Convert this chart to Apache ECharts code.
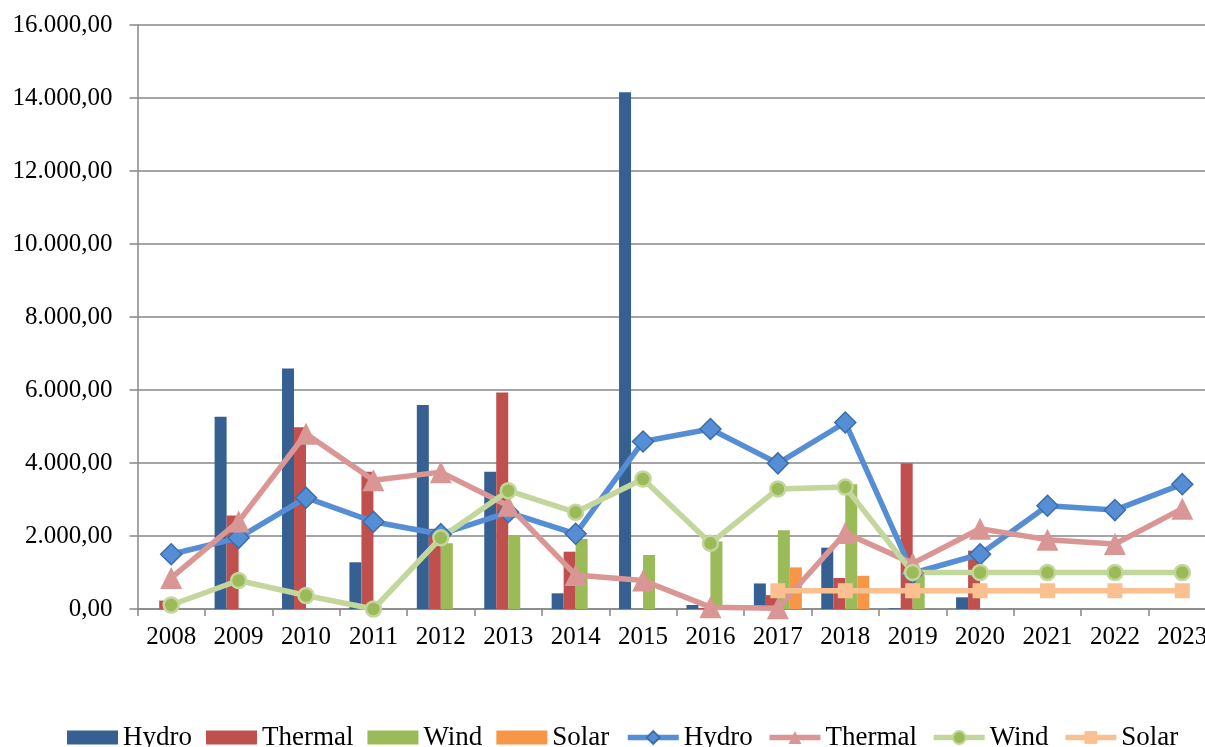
<!DOCTYPE html>
<html>
<head>
<meta charset="utf-8">
<title>Hydro, Thermal, Wind and Solar 2008–2023</title>
<script src="https://cdn.jsdelivr.net/npm/echarts@6/dist/echarts.min.js"></script>
<style>
  html, body { margin: 0; padding: 0; background: #fff; overflow: hidden; }
  /* the plot runs slightly past the right edge of the window */
  #chart { width: 1216px; height: 747px; }
</style>
</head>
<body>
<div id="chart"></div>
<script>
// Years on the category axis
const years = ['2008','2009','2010','2011','2012','2013','2014','2015','2016','2017','2018','2019','2020','2021','2022','2023'];

// Column values
const hydroBars   = [0, 5270, 6590, 1280, 5590, 3760, 430, 14160, 110, 700, 1680, 20, 320, 0, 0, 0];
const thermalBars = [230, 2560, 4980, 3760, 2200, 5930, 1570, 0, 30, 380, 850, 3990, 1600, 0, 0, 0];
const windBars    = [0, 0, 0, 0, 1800, 2030, 1920, 1480, 1850, 2160, 3420, 950, 0, 0, 0, 0];
const solarBars   = [0, 0, 0, 0, 0, 0, 0, 0, 0, 1140, 910, 0, 0, 0, 0, 0];

// Line values
const hydroLine   = [1500, 1950, 3050, 2390, 2050, 2650, 2060, 4590, 4930, 3990, 5110, 980, 1500, 2830, 2710, 3420];
const thermalLine = [850, 2400, 4800, 3530, 3750, 2830, 930, 780, 50, 20, 2080, 1250, 2200, 1900, 1780, 2750];
const windLine    = [110, 780, 370, 0, 1950, 3240, 2650, 3560, 1800, 3290, 3340, 1000, 1000, 1000, 1000, 1000];
const solarLine   = [null, null, null, null, null, null, null, null, null, 500, 500, 500, 500, 500, 500, 500];

// Value-axis tick labels, one per 2.000 step
const yTickLabels = ['0,00', '2.000,00', '4.000,00', '6.000,00', '8.000,00', '10.000,00', '12.000,00', '14.000,00', '16.000,00'];
const yStep = 2000;

const FONT = '"Liberation Serif", "Times New Roman", serif';
const AXIS_GRAY = '#878787';
const LINE_W = 5.5;

const chart = echarts.init(document.getElementById('chart'), null, { renderer: 'canvas' });

function barSeries(name, data, color) {
  return {
    name, type: 'bar', data,
    barWidth: 12,
    barGap: '0%',
    itemStyle: { color },
    z: 2
  };
}

function lineSeries(name, data, color, symbol, size, markerStyle) {
  return {
    name, type: 'line', data,
    symbol, symbolSize: size,
    showAllSymbol: true,
    connectNulls: false,
    lineStyle: { color, width: LINE_W },
    itemStyle: Object.assign({ color }, markerStyle || {}),
    z: 3
  };
}

const legendText = { fontFamily: FONT, fontSize: 27, color: '#000' };

chart.setOption({
  animation: false,
  backgroundColor: '#ffffff',
  textStyle: { fontFamily: FONT },
  grid: { left: 137.5, right: 0, top: 25, bottom: 138, containLabel: false },
  legend: [
    {
      left: 67,
      top: 724,
      padding: 0,
      itemWidth: 51,
      itemHeight: 14,
      itemGap: 14,
      textStyle: legendText,
      data: [
        { name: 'Hydro',   icon: 'rect' },
        { name: 'Thermal', icon: 'rect' },
        { name: 'Wind',    icon: 'rect' },
        { name: 'Solar',   icon: 'rect' }
      ]
    },
    {
      left: 625,
      top: 724,
      padding: 0,
      itemWidth: 51,
      itemHeight: 16,
      itemGap: 14,
      textStyle: legendText,
      data: [
        { name: 'Hydro ',   lineStyle: { width: LINE_W } },
        { name: 'Thermal ', lineStyle: { width: LINE_W } },
        { name: 'Wind ',    lineStyle: { width: LINE_W } },
        { name: 'Solar ',   lineStyle: { width: LINE_W } }
      ],
      formatter: n => n.trim()
    }
  ],
  xAxis: {
    type: 'category',
    data: years,
    boundaryGap: true,
    axisLine: { lineStyle: { color: AXIS_GRAY, width: 1.5 } },
    axisTick: { show: true, length: 7, lineStyle: { color: AXIS_GRAY, width: 1.5 } },
    axisLabel: { color: '#000', fontFamily: FONT, fontSize: 25, margin: 16, interval: 0 },
    splitLine: { show: false }
  },
  yAxis: {
    type: 'value',
    min: 0,
    max: 16000,
    interval: yStep,
    axisLine: { show: true, lineStyle: { color: AXIS_GRAY, width: 1.5 } },
    axisTick: { show: true, length: 8, lineStyle: { color: AXIS_GRAY, width: 1.5 } },
    axisLabel: {
      color: '#000', fontFamily: FONT, fontSize: 25, margin: 25,
      formatter: v => yTickLabels[Math.round(v / yStep)]
    },
    splitLine: { show: true, lineStyle: { color: AXIS_GRAY, width: 1.5 } }
  },
  series: [
    barSeries('Hydro',   hydroBars,   '#376092'),
    barSeries('Thermal', thermalBars, '#C0504D'),
    barSeries('Wind',    windBars,    '#9BBB59'),
    barSeries('Solar',   solarBars,   '#F79646'),
    lineSeries('Hydro ',   hydroLine,   '#558ED5', 'diamond',  21, { borderColor: '#3B6DAA', borderWidth: 1.5 }),
    lineSeries('Thermal ', thermalLine, '#D99694', 'triangle', 22),
    lineSeries('Wind ',    windLine,    '#C3D69B', 'circle',   15, { color: '#9BBB59', borderColor: '#C3D69B', borderWidth: 2.5 }),
    lineSeries('Solar ',   solarLine,   '#FAC090', 'rect',     15)
  ]
});
</script>
</body>
</html>
